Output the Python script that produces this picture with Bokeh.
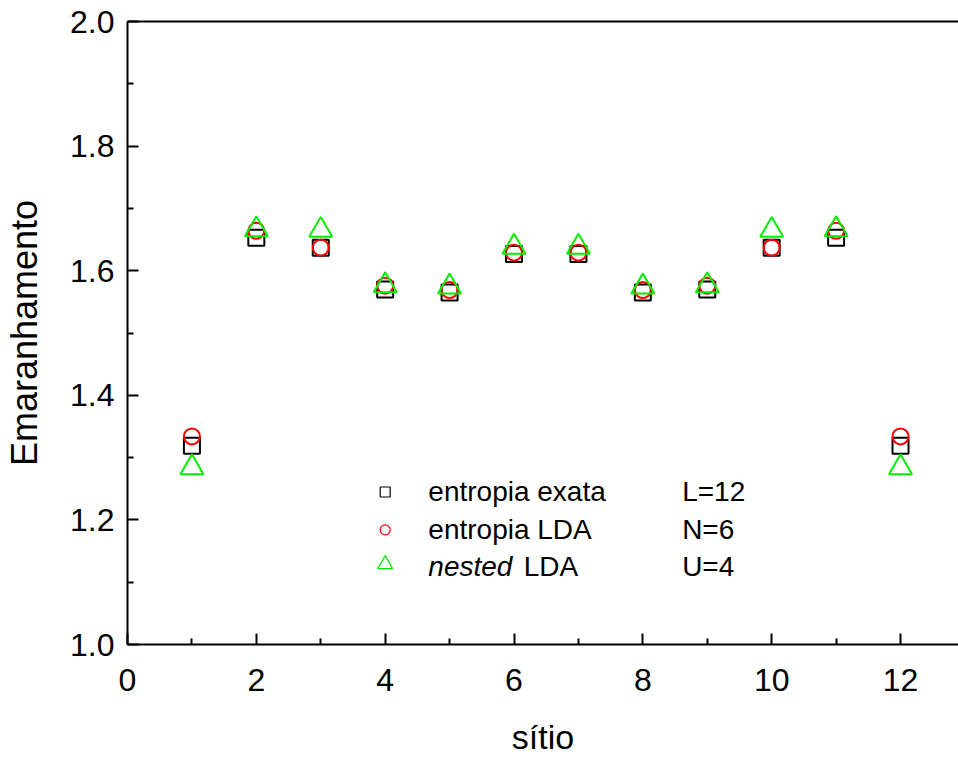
from bokeh.plotting import figure
from bokeh.models import LinearAxis, FixedTicker, PrintfTickFormatter, Range1d
from bokeh.core.properties import value
from bokeh.embed import file_html
from bokeh.resources import INLINE

# ---- data ----
sites = [1, 2, 3, 4, 5, 6, 7, 8, 9, 10, 11, 12]
entropia_exata = [1.319, 1.653, 1.637, 1.570, 1.565, 1.627, 1.627, 1.565, 1.570, 1.637, 1.653, 1.319]
entropia_lda = [1.334, 1.664, 1.637, 1.576, 1.569, 1.629, 1.629, 1.569, 1.576, 1.637, 1.664, 1.334]
nested_lda = [1.284, 1.666, 1.665, 1.576, 1.574, 1.638, 1.638, 1.574, 1.576, 1.665, 1.666, 1.284]

x_ticks = [0, 2, 4, 6, 8, 10, 12]
y_ticks = [1.0, 1.2, 1.4, 1.6, 1.8, 2.0]

# legend layout (data coordinates)
legend_marker_x = 4.0
legend_rows_y = [1.2448, 1.1840, 1.1248]
legend_text_x = 4.67
legend_lda_x = 6.15
legend_param_x = 8.61
legend_params = ["L=12", "N=6", "U=4"]

FONT = "Liberation Sans"

p = figure(width=958, height=758, output_backend="svg", toolbar_location=None,
           x_range=Range1d(0, 12.9), y_range=Range1d(1.0, 2.0),
           min_border_left=127, min_border_right=0, min_border_top=21, min_border_bottom=112)
p.grid.visible = False
p.outline_line_color = None
p.background_fill_color = "white"
p.border_fill_color = "white"

for ax in (p.xaxis[0], p.yaxis[0]):
    ax.axis_line_width = 2
    ax.axis_line_color = "black"
    ax.major_tick_line_width = 2
    ax.minor_tick_line_width = 2
    ax.major_tick_in = 11
    ax.major_tick_out = 0
    ax.minor_tick_in = 6
    ax.minor_tick_out = 0
    ax.major_label_text_font = FONT
    ax.major_label_text_font_size = "32px"
    ax.major_label_text_color = "black"
    ax.axis_label_text_font = FONT
    ax.axis_label_text_font_style = "normal"
    ax.axis_label_text_color = "black"

p.xaxis[0].ticker = FixedTicker(ticks=x_ticks, minor_ticks=[1, 3, 5, 7, 9, 11])
p.yaxis[0].ticker = FixedTicker(ticks=y_ticks, minor_ticks=[1.1, 1.3, 1.5, 1.7, 1.9])
p.yaxis[0].formatter = PrintfTickFormatter(format="%.1f")
p.xaxis.axis_label = "sítio"
p.yaxis.axis_label = "Emaranhamento"
p.xaxis.axis_label_text_font_size = "34px"
p.yaxis.axis_label_text_font_size = "36px"
p.xaxis.major_label_standoff = 24
p.yaxis.major_label_standoff = 13
p.xaxis.axis_label_standoff = 24
p.yaxis.axis_label_standoff = 22

top = LinearAxis(ticker=FixedTicker(ticks=[]), major_label_text_font_size="0px",
                 axis_line_width=2, major_tick_in=0, major_tick_out=0,
                 minor_tick_in=0, minor_tick_out=0, major_label_standoff=0)
p.add_layout(top, "above")

# ---- data markers ----
p.scatter(sites, entropia_exata, marker="square", size=16, fill_color=None,
          line_color="black", line_width=2)
p.scatter(sites, entropia_lda, marker="circle", size=16, fill_color=None,
          line_color="red", line_width=2)
p.scatter(sites, nested_lda, marker="triangle", size=23, fill_color=None,
          line_color="#00ee00", line_width=2)

# ---- legend ----
p.scatter([legend_marker_x], [legend_rows_y[0]], marker="square", size=10,
          fill_color=None, line_color="black", line_width=1.2)
p.scatter([legend_marker_x], [legend_rows_y[1]], marker="circle", size=10,
          fill_color=None, line_color="red", line_width=1.2)
p.scatter([legend_marker_x], [legend_rows_y[2] + 0.004], marker="triangle", size=15,
          fill_color=None, line_color="#00ee00", line_width=1.2)

p.text([legend_text_x, legend_text_x], legend_rows_y[:2],
       text=["entropia exata", "entropia LDA"], text_font=value(FONT),
       text_font_size="28px", text_baseline="middle", text_align="left", text_color="black")
p.text([legend_text_x], [legend_rows_y[2]], text=["nested"], text_font=value(FONT),
       text_font_style="italic", text_font_size="28px", text_baseline="middle",
       text_align="left", text_color="black")
p.text([legend_lda_x], [legend_rows_y[2]], text=["LDA"], text_font=value(FONT),
       text_font_size="28px", text_baseline="middle", text_align="left", text_color="black")
p.text([legend_param_x] * 3, legend_rows_y, text=legend_params, text_font=value(FONT),
       text_font_size="28px", text_baseline="middle", text_align="left", text_color="black")

open("out.html", "w").write(file_html(p, INLINE))
